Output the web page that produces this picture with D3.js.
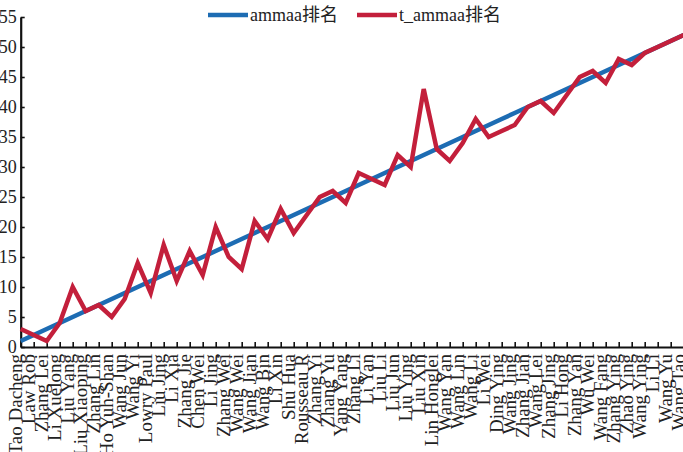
<!DOCTYPE html>
<html>
<head>
<meta charset="utf-8">
<script src="https://cdn.jsdelivr.net/npm/d3@7/dist/d3.min.js"></script>
<style>
  body { margin: 0; background: #fff; }
  svg { display: block; }
  text { font-family: "Liberation Serif", "Times New Roman", "Noto Sans CJK SC", serif; fill: #222; }
</style>
</head>
<body>
<svg id="chart" width="683" height="452"></svg>
<script>
// Author names, in ammaa rank order
const authors = [
  "Tao Dacheng", "Law Rob", "Zhang Lei", "Li Xuelong", "Liu Yang", "Liu Xiaoping",
  "Zhang Lin", "Ho Yuh-Shan", "Wang Jun", "Wang Yi", "Lowry Paul", "Liu Jing",
  "Li Xia", "Zhang Jie", "Chen Wei", "Li Jing", "Zhang Wei", "Wang Wei",
  "Wang Jian", "Wang Bin", "Li Xin", "Shu Hua", "Rousseau R", "Zhang Yi",
  "Zhang Yu", "Yang Yang", "Zhang Li", "Li Yan", "Liu Li", "Liu Jun",
  "Liu Ying", "Liu Xin", "Lin Honglei", "Wang Yan", "Wang Lin", "Wang Li",
  "Li Wei", "Ding Ying", "Wang Jing", "Zhang Jian", "Wang Lei", "Zhang Jing",
  "Li Hong", "Zhang Yan", "Wu Wei", "Wang Fang", "Zhang Ying", "Zhao Ying",
  "Wang Ying", "Li Li", "Wang Yu", "Wang Tao"
];

// ammaa rank of each author
const ammaaRank = [
  1, 2, 3, 4, 5, 6, 7, 8, 9, 10, 11, 12, 13, 14, 15, 16, 17, 18, 19, 20,
  21, 22, 23, 24, 25, 26, 27, 28, 29, 30, 31, 32, 33, 34, 35, 36, 37, 38, 39, 40,
  41, 42, 43, 44, 45, 46, 47, 48, 49, 50, 51, 52
];

// t_ammaa rank of each author
const tAmmaaRank = [
  3, 2, 1, 4, 10, 6, 7, 5, 8, 14, 9, 17, 11, 16, 12, 20, 15, 13, 21, 18,
  23, 19, 22, 25, 26, 24, 29, 28, 27, 32, 30, 43, 33, 31, 34, 38, 35, 36, 37, 40,
  41, 39, 42, 45, 46, 44, 48, 47, 49, 50, 51, 52
];

const yTicks = [0, 5, 10, 15, 20, 25, 30, 35, 40, 45, 50, 55];
const seriesNames = ["ammaa排名", "t_ammaa排名"];
const seriesColors = ["#1d6cb3", "#c31f3b"];

const svg = d3.select("#chart");

const x = d3.scalePoint().domain(authors).range([20.7, 683.7]).padding(0);
const y = d3.scaleLinear().domain([0, 55]).range([347, 17]);

const serif = "'Liberation Serif', 'Times New Roman', serif";

// X axis: inward ticks, names rotated upright
const xAxis = svg.append("g")
  .attr("transform", `translate(0,${y(0)})`)
  .call(d3.axisBottom(x).tickSizeInner(-5).tickSizeOuter(0));
xAxis.select(".domain").attr("stroke", "#111").attr("stroke-width", 2.2);
xAxis.selectAll(".tick line").attr("stroke", "#111").attr("stroke-width", 1.6);
xAxis.selectAll(".tick text")
  .attr("transform", "rotate(-90)")
  .attr("text-anchor", "end")
  .attr("x", -7)
  .attr("y", 0.5)
  .attr("dy", "0")
  .style("font-size", "19px")
  .style("font-family", serif)
  .attr("fill", "#222");

// Y axis
const yAxis = svg.append("g")
  .attr("transform", `translate(${x(authors[0])},0)`)
  .call(d3.axisLeft(y).tickValues(yTicks).tickSizeInner(-4).tickSizeOuter(0).tickPadding(4));
yAxis.select(".domain").attr("stroke", "#111").attr("stroke-width", 2.2);
yAxis.selectAll(".tick line").attr("stroke", "#111").attr("stroke-width", 1.6);
yAxis.selectAll(".tick text")
  .style("font-size", "18px")
  .style("font-family", serif)
  .attr("fill", "#222");

// Rank lines
const line = d3.line()
  .x((d, i) => x(authors[i]))
  .y(d => y(d));

[ammaaRank, tAmmaaRank].forEach((vals, k) => {
  svg.append("path")
    .datum(vals)
    .attr("fill", "none")
    .attr("stroke", seriesColors[k])
    .attr("stroke-width", 4.5)
    .attr("stroke-linejoin", "miter")
    .attr("d", line);
});

// Legend
const legendX = [208, 357];
const legend = svg.append("g");
seriesNames.forEach((name, k) => {
  const g = legend.append("g").attr("transform", `translate(${legendX[k]},15)`);
  g.append("line")
    .attr("x1", 0).attr("x2", 40).attr("y1", 0).attr("y2", 0)
    .attr("stroke", seriesColors[k]).attr("stroke-width", 4.5);
  g.append("text")
    .attr("x", 42).attr("y", 6)
    .style("font-size", "18px")
    .text(name);
});
</script>
</body>
</html>
